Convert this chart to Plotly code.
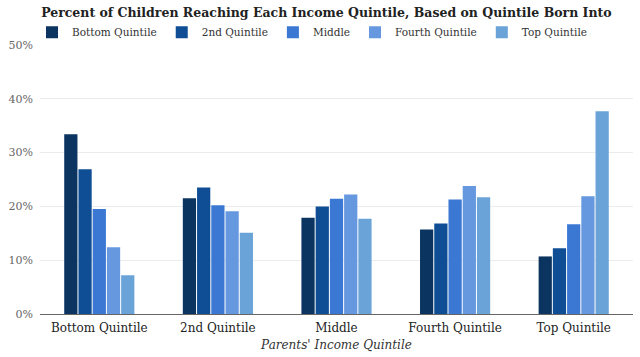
import plotly.graph_objects as go

categories = ["Bottom Quintile", "2nd Quintile", "Middle", "Fourth Quintile", "Top Quintile"]
series_names = ["Bottom Quintile", "2nd Quintile", "Middle", "Fourth Quintile", "Top Quintile"]
bottom_q = [33.4, 21.5, 17.9, 15.7, 10.7]
second_q = [26.9, 23.5, 20.0, 16.8, 12.2]
middle_q = [19.5, 20.2, 21.4, 21.3, 16.7]
fourth_q = [12.4, 19.1, 22.2, 23.8, 21.9]
top_q = [7.2, 15.1, 17.7, 21.7, 37.7]
y_ticks = [0, 10, 20, 30, 40, 50]
y_tick_labels = ["0%", "10%", "20%", "30%", "40%", "50%"]

colors = ["#0b3560", "#0f4e94", "#3a78d4", "#6698e0", "#6aa3d8"]
series = [bottom_q, second_q, middle_q, fourth_q, top_q]

serif = "DejaVu Serif"
fig = go.Figure()
for name, vals, c in zip(series_names, series, colors):
    fig.add_trace(go.Bar(x=categories, y=vals, name=name, marker=dict(color=c, line=dict(width=0))))

fig.update_layout(
    width=640, height=357,
    barmode="group", bargap=0.4, bargroupgap=0.07,
    paper_bgcolor="white", plot_bgcolor="white",
    margin=dict(l=40, r=7, t=45, b=43, autoexpand=False),
    title=dict(text="<b>Percent of Children Reaching Each Income Quintile, Based on Quintile Born Into</b>",
               x=0.51, xanchor="center", yref="container", y=0.966, yanchor="middle",
               font=dict(family=serif, size=12.5, color="#222")),
    legend=dict(orientation="h", xref="container", x=0.05, xanchor="left",
                yref="container", y=0.91, yanchor="middle",
                font=dict(family=serif, size=10.5, color="#333"), itemwidth=30,
                tracegroupgap=0, bgcolor="rgba(0,0,0,0)"),
    xaxis=dict(tickfont=dict(family=serif, size=12, color="#222"),
               title=dict(text="<i>Parents' Income Quintile</i>", font=dict(family=serif, size=12, color="#333"), standoff=6),
               showline=False, ticks="", ticklabelstandoff=5),
    yaxis=dict(range=[0, 50], tickvals=y_ticks, ticktext=y_tick_labels,
               tickfont=dict(family=serif, size=11, color="#666"),
               gridcolor="#ececec", gridwidth=1, zeroline=True, zerolinecolor="#666", zerolinewidth=1,
               ticks="", ticklabelstandoff=6),
)
fig.write_html("out.html", config={"displayModeBar": False},
               post_script="document.body.style.margin='0';")
